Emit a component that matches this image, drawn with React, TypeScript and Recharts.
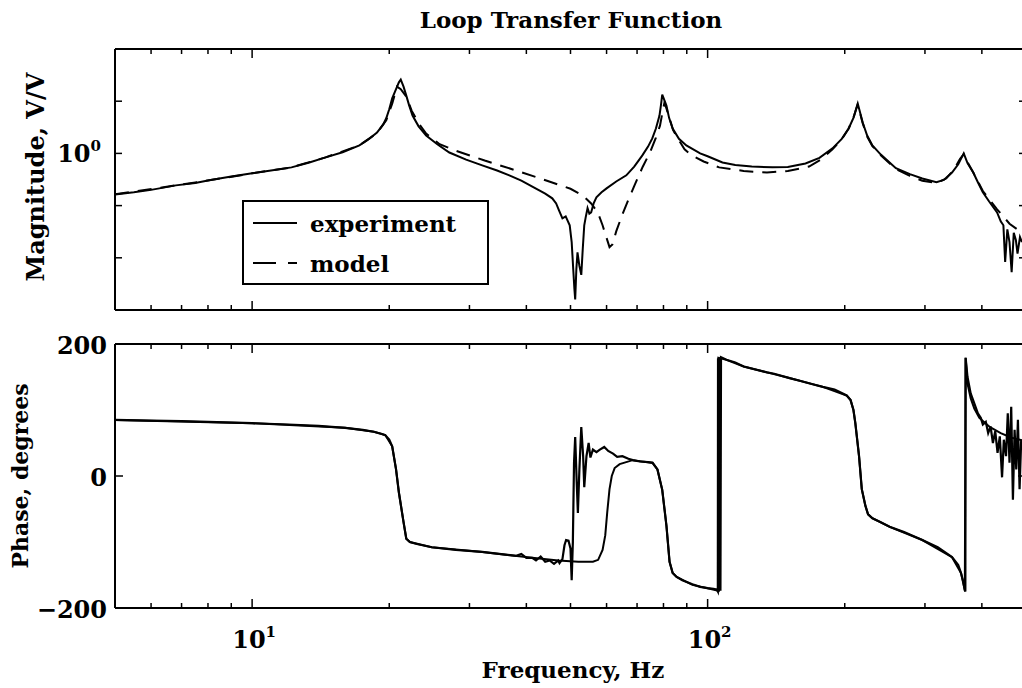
import React from 'react';
import { LineChart, Line, XAxis, YAxis, ReferenceLine, Legend } from 'recharts';

const FONT = '"DejaVu Serif", "Liberation Serif", serif';

// Magnitude, experiment: frequency (Hz) and |L| (V/V)
const magExpFreq = [
  5.0, 5.5, 6.0, 6.8, 7.5, 8.05, 9.0, 10, 11, 12.2, 13.3, 14.5, 15.8, 17.2, 18.0, 18.8, 19.4, 19.7, 20.0, 20.3,
  20.7, 21.0, 21.2, 21.5, 21.8, 22.1, 22.5, 23.2, 24.1, 25.5, 27.1, 29.5, 32.0, 34.5, 36.7, 39.0, 42.1, 44.0, 45.6, 46.5,
  47.2, 48.0, 48.8, 49.8, 50.3, 50.7, 51.0, 51.2, 51.5, 51.8, 52.3, 52.8, 53.2, 53.6, 54.0, 54.5, 55.0, 55.5, 56.2, 57.0,
  58.5, 60.0, 63.0, 66.3, 69.0, 71.9, 74.0, 75.6, 77.0, 78.4, 79.0, 79.5, 80.2, 81.2, 82.3, 83.8, 86.5, 89.8, 96.3, 100,
  107.8, 115, 125, 138.8, 150, 164, 176, 188, 197, 204, 209, 213.6, 216, 219, 224, 230, 240, 259, 278, 296,
  318, 330, 344, 355, 365, 372, 383, 392, 402, 415, 432, 440, 446, 450, 455, 460, 465, 470, 475, 479,
  485, 490,
];
const magExpVal = [
  0.164, 0.18, 0.2, 0.244, 0.27, 0.305, 0.36, 0.415, 0.47, 0.54, 0.66, 0.84, 1.05, 1.42, 1.85, 2.5, 3.6, 4.7, 7.0, 11.3,
  17, 23, 26, 19, 12.8, 8.5, 5.3, 3.3, 2.21, 1.5, 1.04, 0.76, 0.59, 0.47, 0.38, 0.3, 0.21, 0.17, 0.138, 0.11,
  0.08, 0.057, 0.062, 0.042, 0.02, 0.006, 0.0025, 0.0016, 0.006, 0.0127, 0.007, 0.0047, 0.015, 0.042, 0.06, 0.089, 0.07, 0.074, 0.11, 0.144,
  0.18, 0.214, 0.29, 0.38, 0.56, 0.915, 1.35, 1.94, 3.0, 5.3, 8.5, 13.4, 11, 8.3, 4.8, 3.0, 1.9, 1.42, 1.0, 0.88,
  0.67, 0.6, 0.56, 0.54, 0.55, 0.64, 0.82, 1.25, 1.9, 3.0, 4.8, 9.0, 6.2, 3.9, 2.2, 1.42, 0.95, 0.52, 0.4, 0.33,
  0.28, 0.31, 0.43, 0.62, 1.0, 0.65, 0.43, 0.28, 0.18, 0.12, 0.074, 0.05, 0.042, 0.0083, 0.035, 0.02, 0.0053, 0.03, 0.022, 0.012,
  0.025, 0.02,
];

// Magnitude, model
const magModelFreq = [
  5.0, 6.8, 8.05, 10, 12.2, 14.5, 17.2, 18.8, 19.7, 20.3, 20.8, 21.2, 21.8, 22.4, 23.2, 24.1, 25.8, 27.9, 32.4, 38.6,
  44.9, 50, 53.2, 55.5, 57.4, 58.8, 60.0, 60.9, 61.8, 63.0, 65.0, 67.0, 69.1, 72.0, 74.7, 77.0, 78.6, 79.7, 80.4, 81.3,
  82.5, 84.0, 86.0, 89.0, 92.2, 98, 106, 120, 135, 150, 167, 178, 188, 197, 204, 209, 213.3, 216, 219, 224,
  230, 240, 259, 278, 296, 318, 334, 348, 358, 365, 372, 383, 402, 432, 460, 490,
];
const magModelVal = [
  0.164, 0.244, 0.305, 0.415, 0.54, 0.84, 1.42, 2.45, 4.3, 9, 19, 17, 12.3, 6.6, 3.8, 2.4, 1.5, 1.14, 0.73, 0.45,
  0.29, 0.21, 0.157, 0.11, 0.074, 0.042, 0.024, 0.016, 0.018, 0.032, 0.068, 0.13, 0.244, 0.55, 1.04, 2.0, 3.4, 6.5, 9.4, 7.0,
  4.7, 2.8, 1.94, 1.2, 0.92, 0.7, 0.54, 0.46, 0.43, 0.46, 0.56, 0.78, 1.2, 1.85, 3.0, 4.8, 8.5, 6.0, 3.8, 2.1,
  1.38, 0.92, 0.5, 0.37, 0.3, 0.27, 0.33, 0.5, 0.78, 0.97, 0.68, 0.43, 0.19, 0.085, 0.045, 0.03,
];

// Phase, experiment (degrees)
const phaseExpFreq = [
  5.0, 6, 7, 8, 10, 12, 14, 16, 17.5, 18.5, 19.2, 19.6, 20.0, 20.3, 20.7, 21.0, 21.5, 21.8, 22.2, 23,
  24.8, 28, 32, 36, 38, 39, 40, 41.2, 42, 43, 44, 45, 46, 47, 47.3, 48, 48.5, 48.9, 49.5, 50.0,
  50.3, 50.6, 50.9, 51.2, 51.6, 51.9, 52.3, 52.8, 53.3, 53.6, 54.2, 54.8, 55.3, 56, 57, 58, 59.3, 60.5, 62, 63.3,
  65, 67, 68.5, 71, 74, 75.7, 77.6, 79.5, 81.2, 82.5, 83.8, 85.5, 88, 92.6, 96.3, 100, 103, 104.7, 105.3, 105.4,
  105.5, 105.7, 105.9, 106.1, 106.3, 106.5, 106.7, 107, 110, 115, 120, 128, 135, 140, 152, 160, 170, 179, 190, 202,
  206, 209, 211, 215, 218, 222, 225, 230, 240, 251, 270, 296, 320, 344, 355, 360, 364, 367, 368, 368.5,
  372, 378, 385, 392, 398, 402, 408, 413, 418, 423, 428, 433, 438, 443, 447, 452, 456, 460, 464, 468,
  472, 476, 480, 484, 488, 490,
];
const phaseExpVal = [
  85, 84, 83, 82, 80, 78, 76, 73, 70, 67, 64, 62, 55, 45, 10, -25, -70, -95, -100, -103,
  -108, -112, -115, -119, -121, -118, -124, -124, -128, -122, -130, -128, -133, -128, -132, -126, -105, -97, -98, -110,
  -158, -100, 20, 59, -10, -56, 10, 74, 30, -17, 30, 50, 28, 40, 36, 40, 44, 38, 34, 29,
  30, 26, 24, 22, 21, 20, 10, -21, -75, -130, -147, -153, -158, -164, -168, -170, -171, -172, -175, 178,
  -176, 179, -175, 178, -173, 178, -174, 180, 176, 172, 166, 161, 157, 155, 148, 144, 139, 135, 131, 122,
  115, 100, 80, 30, -20, -45, -58, -64, -70, -77, -85, -97, -108, -123, -135, -147, -160, -173, -175, 179,
  150, 125, 110, 95, 88, 78, 82, 65, 75, 50, 68, 35, 60, -2, 55, 30, 95, 20, 105, -36,
  70, 10, 85, -20, 55, 44,
];

// Phase, model
const phaseModelFreq = [
  5, 10, 16, 18.5, 19.6, 20.3, 20.7, 21.0, 21.5, 21.8, 22.2, 24.8, 32, 41.2, 47, 52, 56, 57.5, 58.8, 59.6,
  60.2, 60.9, 61.6, 62.5, 64.1, 68.5, 74, 75.7, 77.6, 79.5, 81.2, 82.5, 83.8, 85.5, 92.6, 100, 105.5, 105.6, 110, 120,
  135, 152, 179, 202, 206, 209, 211, 215, 218, 222, 225, 230, 251, 296, 344, 360, 367, 368.5, 372, 378,
  385, 395, 417, 440, 465, 490,
];
const phaseModelVal = [
  85, 80, 73, 67, 62, 45, 10, -25, -70, -95, -100, -108, -115, -124, -128, -130, -130, -127, -112, -90,
  -55, -20, 0, 12, 18, 24, 21, 20, 10, -21, -75, -130, -147, -153, -165, -170, -174, 179, 176, 166,
  157, 148, 135, 122, 115, 100, 80, 30, -20, -45, -58, -64, -77, -97, -123, -147, -173, 179, 140, 118,
  102, 88, 74, 65, 58, 54,
];

const freqTicks = [6, 7, 8, 9, 10, 20, 30, 40, 50, 60, 70, 80, 90, 100, 200, 300, 400];
const freqExponent: Record<number, string> = { 10: '1', 100: '2' };
const magTicks = [0.01, 0.1, 1, 10];
const phaseTicks = [-200, 0, 200];

const toRows = (f: number[], v: number[]) => f.map((x, i) => ({ f: x, v: v[i] }));

const magExp = toRows(magExpFreq, magExpVal);
const magModel = toRows(magModelFreq, magModelVal);
const phaseExp = toRows(phaseExpFreq, phaseExpVal);
const phaseModel = toRows(phaseModelFreq, phaseModelVal);

const PLOT_W = 911;
const MAG_H = 261;
const PHASE_H = 264;

const FreqTick = ({ x, y, payload, plotH, showLabels }: any) => {
  const v = payload.value;
  const major = v === 10 || v === 100;
  const len = major ? 9 : 5;
  return (
    <g>
      <line x1={x} x2={x} y1={y} y2={y - len} stroke="#000" strokeWidth={1.5} />
      <line x1={x} x2={x} y1={y - plotH} y2={y - plotH + len} stroke="#000" strokeWidth={1.5} />
      {showLabels && major && (
        <text x={x + 2} y={y + 40} textAnchor="middle" fontFamily={FONT} fontWeight="bold" fontSize={24} fill="#000">
          10<tspan dy={-11} fontSize={15}>{freqExponent[v]}</tspan>
        </text>
      )}
    </g>
  );
};

const MagTick = ({ x, y, payload }: any) => (
  <g>
    <line x1={x} x2={x + 7} y1={y} y2={y} stroke="#000" strokeWidth={1.5} />
    <line x1={x + PLOT_W - 7} x2={x + PLOT_W} y1={y} y2={y} stroke="#000" strokeWidth={1.5} />
    {payload.value === 1 && (
      <text x={x - 14} y={y + 9} textAnchor="end" fontFamily={FONT} fontWeight="bold" fontSize={24} fill="#000">
        10<tspan dy={-11} fontSize={15}>0</tspan>
      </text>
    )}
  </g>
);

const PhaseTick = ({ x, y, payload }: any) => (
  <g>
    <line x1={x} x2={x + 8} y1={y} y2={y} stroke="#000" strokeWidth={1.5} />
    <line x1={x + PLOT_W - 8} x2={x + PLOT_W} y1={y} y2={y} stroke="#000" strokeWidth={1.5} />
    <text x={x - 8} y={y + 10} textAnchor="end" fontFamily={FONT} fontWeight="bold" fontSize={24} fill="#000">
      {payload.value < 0 ? `\u2212${Math.abs(payload.value)}` : payload.value}
    </text>
  </g>
);

const LegendBox = ({ payload }: any) => (
  <div
    style={{
      width: 247,
      height: 85,
      border: '2px solid #000',
      boxSizing: 'border-box',
      background: '#fff',
      fontFamily: FONT,
      fontWeight: 'bold',
      fontSize: 23,
      paddingTop: 1,
    }}
  >
    {(payload || []).map((entry: any) => (
      <div key={entry.value} style={{ display: 'flex', alignItems: 'center', height: 40 }}>
        <svg width={63} height={10} style={{ marginLeft: 3 }}>
          <line
            x1={6}
            x2={50}
            y1={5}
            y2={5}
            stroke="#000"
            strokeWidth={2}
            strokeDasharray={entry.value === 'model' ? '23 12' : undefined}
          />
        </svg>
        <span>{entry.value}</span>
      </div>
    ))}
  </div>
);

export default function App() {
  return (
    <div style={{ position: 'absolute', left: 0, top: 0, width: 1022, height: 688, overflow: 'hidden', background: '#fff' }}>
      <div style={{ position: 'absolute', left: 0, top: 0 }}>
        <LineChart width={1030} height={330} margin={{ top: 49, right: 4, bottom: 0, left: 0 }}>
          <XAxis
            dataKey="f"
            type="number"
            scale="log"
            domain={[5, 500]}
            allowDataOverflow
            ticks={freqTicks}
            interval={0}
            height={20}
            tickSize={0}
            tickMargin={0}
            axisLine={{ stroke: '#000', strokeWidth: 2 }}
            tickLine={false}
            tick={(p: any) => <FreqTick {...p} plotH={MAG_H} showLabels={false} />}
          />
          <YAxis
            type="number"
            scale="log"
            domain={[0.001, 100]}
            allowDataOverflow
            ticks={magTicks}
            interval={0}
            width={115}
            tickSize={0}
            tickMargin={0}
            axisLine={{ stroke: '#000', strokeWidth: 2 }}
            tickLine={false}
            tick={(p: any) => <MagTick {...p} />}
          />
          <ReferenceLine y={100} stroke="#000" strokeWidth={2} />
          <ReferenceLine x={500} stroke="#000" strokeWidth={2} />
          <Line
            data={magExp}
            dataKey="v"
            name="experiment"
            type="linear"
            stroke="#000"
            strokeWidth={2}
            dot={false}
            isAnimationActive={false}
          />
          <Line
            data={magModel}
            dataKey="v"
            name="model"
            type="linear"
            stroke="#000"
            strokeWidth={2}
            strokeDasharray="14 9"
            dot={false}
            isAnimationActive={false}
          />
          <Legend
            layout="vertical"
            align="center"
            verticalAlign="middle"
            content={(p: any) => <LegendBox {...p} />}
            wrapperStyle={{ left: 242, top: 200, width: 247, height: 85 }}
          />
        </LineChart>
      </div>
      <div style={{ position: 'absolute', left: 0, top: 330 }}>
        <LineChart width={1030} height={358} margin={{ top: 14, right: 4, bottom: 50, left: 0 }}>
          <XAxis
            dataKey="f"
            type="number"
            scale="log"
            domain={[5, 500]}
            allowDataOverflow
            ticks={freqTicks}
            interval={0}
            height={30}
            tickSize={0}
            tickMargin={0}
            axisLine={{ stroke: '#000', strokeWidth: 2 }}
            tickLine={false}
            tick={(p: any) => <FreqTick {...p} plotH={PHASE_H} showLabels />}
          />
          <YAxis
            type="number"
            domain={[-200, 200]}
            allowDataOverflow
            ticks={phaseTicks}
            interval={0}
            width={115}
            tickSize={0}
            tickMargin={0}
            axisLine={{ stroke: '#000', strokeWidth: 2 }}
            tickLine={false}
            tick={(p: any) => <PhaseTick {...p} />}
          />
          <ReferenceLine y={200} stroke="#000" strokeWidth={2} />
          <ReferenceLine x={500} stroke="#000" strokeWidth={2} />
          <Line
            data={phaseExp}
            dataKey="v"
            name="experiment"
            type="linear"
            stroke="#000"
            strokeWidth={2.2}
            dot={false}
            isAnimationActive={false}
          />
          <Line
            data={phaseModel}
            dataKey="v"
            name="model"
            type="linear"
            stroke="#000"
            strokeWidth={2}
            dot={false}
            isAnimationActive={false}
          />
        </LineChart>
      </div>
      <svg width={1022} height={688} style={{ position: 'absolute', left: 0, top: 0, pointerEvents: 'none' }}>
        <g fontFamily={FONT} fontWeight="bold" fill="#000">
          <text x={571} y={28} textAnchor="middle" fontSize={23}>
            Loop Transfer Function
          </text>
          <text x={573} y={678} textAnchor="middle" fontSize={23}>
            Frequency, Hz
          </text>
          <text transform="translate(44,177) rotate(-90)" textAnchor="middle" fontSize={24}>
            Magnitude, V/V
          </text>
          <text transform="translate(28,476) rotate(-90)" textAnchor="middle" fontSize={22}>
            Phase, degrees
          </text>
        </g>
      </svg>
    </div>
  );
}
